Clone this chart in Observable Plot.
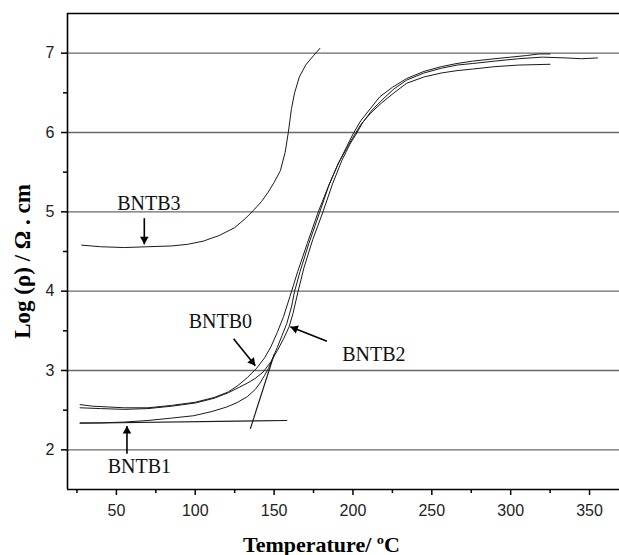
<!DOCTYPE html>
<html>
<head>
<meta charset="utf-8">
<script src="https://cdn.jsdelivr.net/npm/d3@7"></script>
<script src="https://cdn.jsdelivr.net/npm/@observablehq/plot@0.6"></script>
<style>
  body { margin: 0; background: #fff; }
</style>
</head>
<body>
<div id="chart"></div>
<script>
// Resistivity curves: [temperature °C, log(ρ / Ω·cm)]
const bntb0 = [
  [27,2.57],[35,2.55],[45,2.54],[55,2.53],[70,2.53],[85,2.56],[100,2.60],[112,2.66],[121,2.73],
  [127,2.81],[133,2.91],[139,3.03],[144,3.16],[148,3.30],[152,3.48],[156,3.68],[160,3.93],
  [165,4.25],[171,4.60],[178,5.00],[184,5.30],[190,5.58],[196,5.82],[200,5.98],[205,6.15],
  [211,6.30],[217,6.45],[225,6.57],[234,6.68],[245,6.77],[256,6.83],[266,6.87],[276,6.90],
  [290,6.93],[300,6.95],[310,6.97],[318,6.99],[325,6.99]
];
const bntb1 = [
  [27,2.34],[40,2.34],[55,2.35],[70,2.37],[85,2.40],[99,2.43],[110,2.48],[120,2.54],[127,2.60],
  [133,2.67],[138,2.76],[141,2.84],[144,2.94],[146.5,3.03],[149,3.15],[152,3.29],[155,3.44],
  [158,3.59],[161,3.80],[163,4.00],[166.5,4.25],[172,4.60],[179,5.00],[185,5.35],[191,5.62],
  [196,5.80],[200,5.94],[205,6.10],[211,6.24],[218,6.37],[226,6.50],[234,6.62],[245,6.70],
  [256,6.75],[266,6.78],[276,6.80],[290,6.83],[305,6.85],[325,6.86]
];
const bntb2 = [
  [27,2.53],[40,2.52],[55,2.51],[70,2.52],[85,2.55],[100,2.59],[112,2.65],[121,2.72],[128,2.79],
  [133,2.84],[138,2.90],[143,2.98],[148,3.11],[152,3.25],[156,3.40],[159.5,3.55],[162,3.72],
  [165,3.98],[169,4.30],[174.5,4.65],[181,5.00],[187,5.35],[193,5.65],[198,5.85],[202,5.98],
  [206,6.12],[212,6.28],[219,6.42],[226,6.55],[234,6.66],[245,6.75],[256,6.81],[266,6.85],
  [276,6.87],[290,6.90],[305,6.93],[320,6.95],[335,6.94],[345,6.93],[355,6.94]
];
const bntb3 = [
  [28,4.58],[40,4.56],[55,4.55],[70,4.56],[85,4.57],[95,4.59],[105,4.63],[115,4.70],[125,4.80],
  [132,4.92],[137,5.02],[142,5.13],[146,5.24],[150,5.37],[154,5.52],[157,5.75],[159,6.00],
  [161,6.30],[163,6.50],[166,6.70],[170,6.85],[175,6.97],[179,7.06]
];

// Tangent construction lines on the BNTB1 curve
const baselineTangent = [[27,2.335],[158,2.37]];
const riseTangent = [[135,2.27],[150,3.20]];

// Curve labels and their pointer arrows
const labelNames = ["BNTB3", "BNTB0", "BNTB2", "BNTB1"];
const labelX = [70.6, 115.9, 213.3, 64.6];
const labelY = [5.105, 3.617, 3.20, 1.783];
const arrowTail = [[67.7,4.92],[124.3,3.40],[183.5,3.37],[56.7,1.95]];
const arrowTip  = [[67.7,4.59],[138.1,3.06],[160.3,3.55],[56.7,2.30]];

// Axis ticks
const xTicks = [50,100,150,200,250,300,350];
const xMinorTicks = [25,75,125,175,225,275,325];
const yTicks = [2,3,4,5,6,7];
const yMinorTicks = [2.5,3.5,4.5,5.5,6.5];

const W = 619, H = 555;
const mL = 67, mR = 0, mT = 13, mB = 66;
const xDomain = [19, 369];
const yDomain = [1.5, 7.5];

const sx = Plot.scale({x: {domain: xDomain, range: [mL, W - mR]}});
const sy = Plot.scale({y: {domain: yDomain, range: [H - mB, mT]}});

const curveStyle = {x: d => d[0], y: d => d[1], stroke: "#1a1a1a", strokeWidth: 1};
const serif = "'Liberation Serif', 'Times New Roman', serif";
const sans = "'Liberation Sans', Arial, sans-serif";

// Filled arrowheads, rotated along each arrow's direction on screen
const headMarks = arrowTip.map((tip, i) => {
  const tail = arrowTail[i];
  const px = sx.apply(tip[0]) - sx.apply(tail[0]);
  const py = sy.apply(tip[1]) - sy.apply(tail[1]);
  const len = Math.hypot(px, py);
  const ux = px / len, uy = py / len;
  const angle = Math.atan2(px, -py) * 180 / Math.PI;
  return Plot.dot([tip], {
    x: d => d[0], y: d => d[1], symbol: "triangle", r: 3.2,
    rotate: angle, fill: "#000", stroke: "none", dx: -ux * 5, dy: -uy * 5
  });
});

const chart = Plot.plot({
  width: W,
  height: H,
  marginLeft: mL,
  marginRight: mR,
  marginTop: mT,
  marginBottom: mB,
  style: {background: "#fff", overflow: "visible", fontSize: "16px", fontFamily: sans},
  x: {domain: xDomain},
  y: {domain: yDomain},
  marks: [
    Plot.ruleY(yTicks, {stroke: "#6a6a6a", strokeWidth: 1.3}),
    Plot.ruleY([yDomain[1]], {stroke: "#000", strokeWidth: 1.5}),
    Plot.line(bntb3, curveStyle),
    Plot.line(bntb2, curveStyle),
    Plot.line(bntb1, curveStyle),
    Plot.line(bntb0, curveStyle),
    Plot.line(baselineTangent, {...curveStyle, strokeWidth: 1.2}),
    Plot.line(riseTangent, {...curveStyle, strokeWidth: 1.2}),
    Plot.link(arrowTail.map((t, i) => [t, arrowTip[i]]), {
      x1: d => d[0][0], y1: d => d[0][1], x2: d => d[1][0], y2: d => d[1][1],
      stroke: "#000", strokeWidth: 1.6
    }),
    ...headMarks,
    Plot.text(labelNames, {
      x: (d, i) => labelX[i], y: (d, i) => labelY[i], text: d => d,
      fontFamily: serif, fontSize: 20, fill: "#111", textAnchor: "middle", lineAnchor: "middle"
    }),
    Plot.axisX(xTicks, {
      tickSize: 6, tickPadding: 9, fontSize: 16, fontFamily: sans,
      strokeWidth: 1.5, label: null, fill: "#222", tickFormat: d3.format("d")
    }),
    Plot.axisX(xMinorTicks, {tickSize: 4, strokeWidth: 1.5, tickFormat: () => "", label: null}),
    Plot.axisY(yTicks, {
      tickSize: 6, tickPadding: 7, fontSize: 16, fontFamily: sans,
      strokeWidth: 1.5, label: null, fill: "#222", tickFormat: d3.format("d")
    }),
    Plot.axisY(yMinorTicks, {tickSize: 4, strokeWidth: 1.5, tickFormat: () => "", label: null}),
    Plot.ruleX([xDomain[0]], {stroke: "#000", strokeWidth: 1.6}),
    Plot.ruleY([yDomain[0]], {stroke: "#000", strokeWidth: 1.6}),
    Plot.text(["Temperature/ ºC"], {
      frameAnchor: "bottom", dx: -22, dy: 55, text: d => d, textAnchor: "middle",
      fontFamily: serif, fontSize: 22, fontWeight: "bold", fill: "#000", lineAnchor: "middle"
    }),
    Plot.text(["Log (ρ) / Ω . cm"], {
      frameAnchor: "left", dx: -45, dy: 10, rotate: -90, text: d => d, textAnchor: "middle",
      fontFamily: serif, fontSize: 23, fontWeight: "bold", fill: "#000", lineAnchor: "middle"
    })
  ]
});

document.getElementById("chart").appendChild(chart);
</script>
</body>
</html>
